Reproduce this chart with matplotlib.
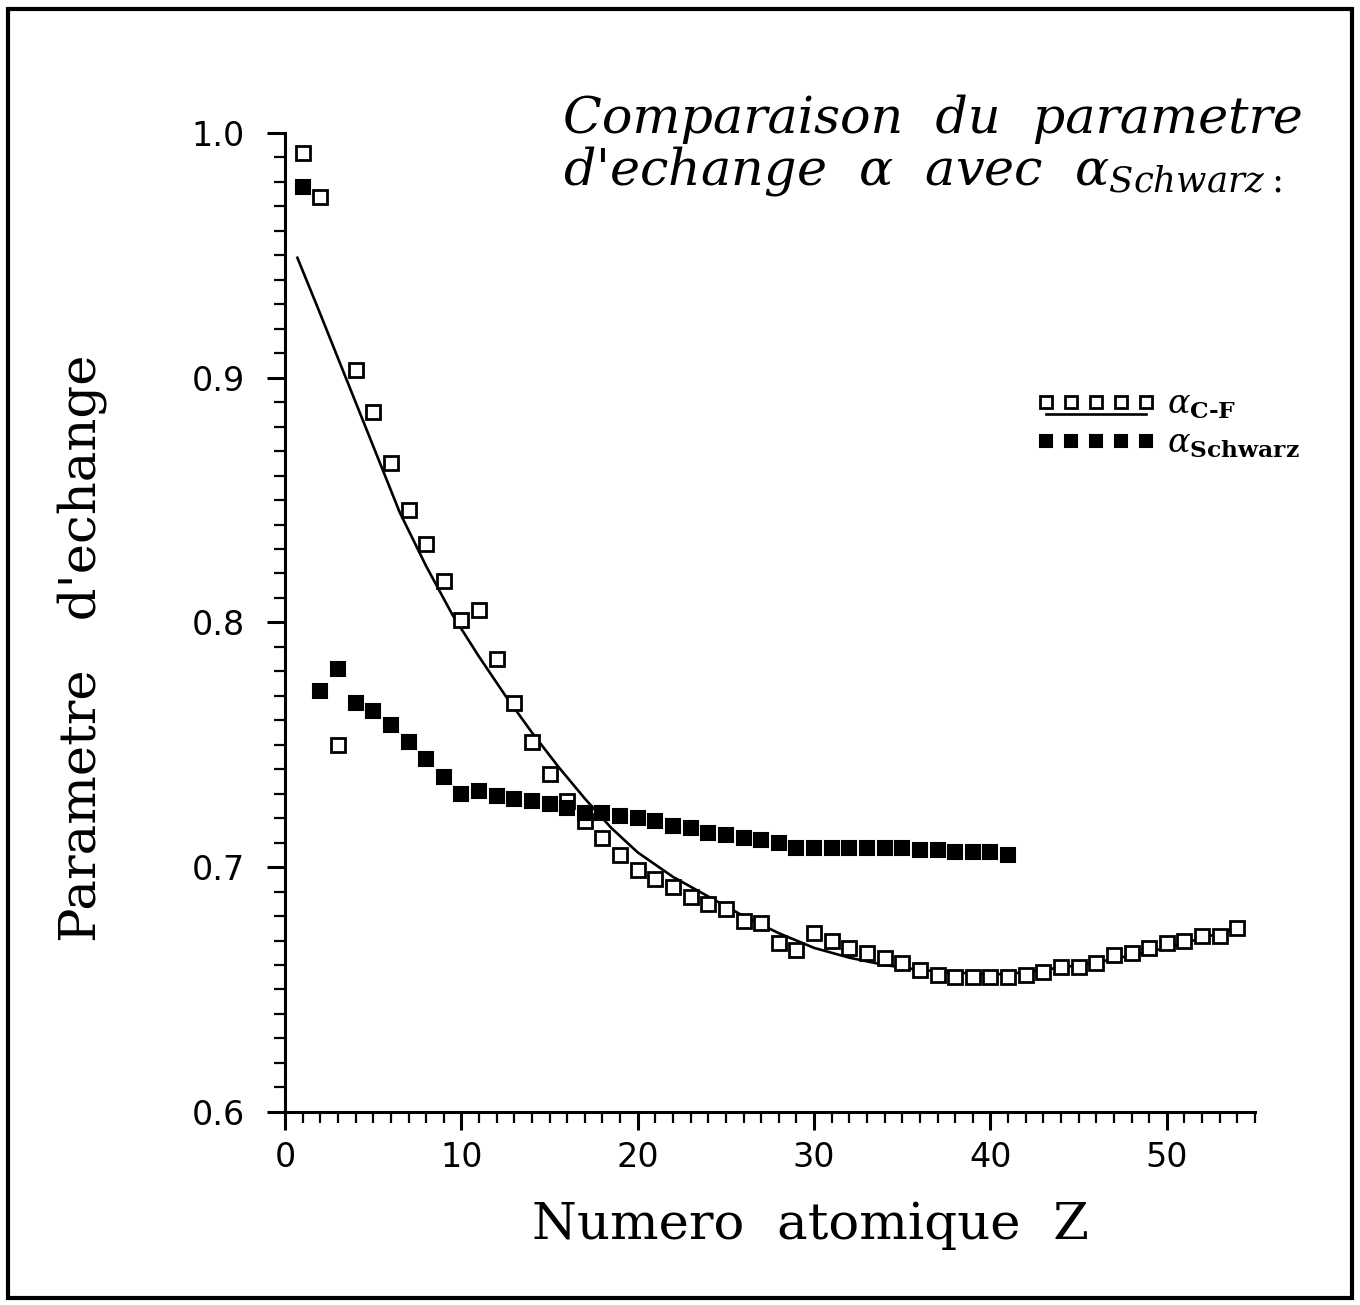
"""
exchange parameter alpha (C-F fit) compared with alpha Schwarz
output: out.png
"""

import numpy as np
import matplotlib

matplotlib.use("Agg")
import matplotlib.pyplot as plt
from matplotlib.patches import Rectangle
from matplotlib.legend_handler import HandlerLine2D, HandlerTuple
from matplotlib.ticker import MultipleLocator, FormatStrFormatter


# -- DATA --
z_cf = list(range(1, 55))
alpha_cf = [
    0.992, 0.974, 0.750, 0.903, 0.886, 0.865, 0.846, 0.832, 0.817, 0.801,
    0.805, 0.785, 0.767, 0.751, 0.738, 0.727, 0.719, 0.712, 0.705, 0.699,
    0.695, 0.692, 0.688, 0.685, 0.683, 0.678, 0.677, 0.669, 0.666, 0.673,
    0.670, 0.667, 0.665, 0.663, 0.661, 0.658, 0.656, 0.655, 0.655, 0.655,
    0.655, 0.656, 0.657, 0.659, 0.659, 0.661, 0.664, 0.665, 0.667, 0.669,
    0.670, 0.672, 0.672, 0.675,
]

z_schwarz = list(range(1, 42))
alpha_schwarz = [
    0.978, 0.772, 0.781, 0.767, 0.764, 0.758, 0.751, 0.744, 0.737, 0.730,
    0.731, 0.729, 0.728, 0.727, 0.726, 0.724, 0.722, 0.722, 0.721, 0.720,
    0.719, 0.717, 0.716, 0.714, 0.713, 0.712, 0.711, 0.710, 0.708, 0.708,
    0.708, 0.708, 0.708, 0.708, 0.708, 0.707, 0.707, 0.706, 0.706, 0.706,
    0.705,
]

# fitted curve
z_fit = [0.7, 2, 3.5, 5, 6.5, 8, 9.5, 11, 12.5, 14, 15.5, 17, 18.5, 20, 22,
         24, 26, 28, 30, 32, 34, 36, 38, 40, 42, 44, 46, 48, 50, 52, 54]
alpha_fit = [0.949, 0.926, 0.899, 0.872, 0.845, 0.823, 0.803, 0.786, 0.770,
             0.755, 0.741, 0.728, 0.716, 0.706, 0.696, 0.688, 0.680, 0.673,
             0.667, 0.663, 0.660, 0.658, 0.657, 0.656, 0.657, 0.659, 0.661,
             0.664, 0.667, 0.671, 0.675]

x_ticks = [0, 10, 20, 30, 40, 50]
y_ticks = [0.6, 0.7, 0.8, 0.9, 1.0]


# -- STYLE --
plt.rcParams["mathtext.fontset"] = "dejavuserif"
serif = ["DejaVu Serif"]


class UnderLine(HandlerLine2D):
    """legend line drawn below the marker row"""

    def create_artists(self, legend, orig_handle, xdescent, ydescent,
                       width, height, fontsize, trans):
        arts = super().create_artists(legend, orig_handle, xdescent, ydescent,
                                      width, height, fontsize, trans)
        for a in arts:
            a.set_ydata(np.asarray(a.get_ydata()) - 0.5 * height)
        return arts


# -- PLOT --
fig = plt.figure(figsize=(13.6, 13.05), dpi=100)
ax = fig.add_axes([0.2096, 0.148, 0.7132, 0.7501])

(fit_line,) = ax.plot(z_fit, alpha_fit, color="black", lw=1.9)
(cf_pts,) = ax.plot(z_cf, alpha_cf, ls="none", marker="s", ms=10,
                    mfc="white", mec="black", mew=2.0)
(sw_pts,) = ax.plot(z_schwarz, alpha_schwarz, ls="none", marker="s", ms=10,
                    mfc="black", mec="black", mew=1.5)

ax.set_xlim(0, 55)
ax.set_ylim(0.6, 1.0)

for side in ["top", "right"]:
    ax.spines[side].set_visible(False)
for side in ["left", "bottom"]:
    ax.spines[side].set_linewidth(2.2)

ax.set_xticks(x_ticks)
ax.set_yticks(y_ticks)
ax.xaxis.set_minor_locator(MultipleLocator(1))
ax.yaxis.set_minor_locator(MultipleLocator(0.01))
ax.yaxis.set_major_formatter(FormatStrFormatter("%.1f"))
ax.tick_params(which="major", direction="out", length=13, width=2.2)
ax.tick_params(which="minor", direction="out", length=8, width=1.6)
ax.tick_params(axis="y", which="major", pad=16)
ax.tick_params(axis="x", which="major", pad=8)
for lab in ax.get_xticklabels() + ax.get_yticklabels():
    lab.set_family("DejaVu Sans")
    lab.set_fontsize(24)

# legend: open squares with the fit underlined, then filled squares
leg = ax.legend(
    handles=[(cf_pts, fit_line), sw_pts],
    labels=["$\\alpha_{\\mathbf{C\u2010F}}$", r"$\alpha_{\mathbf{Schwarz}}$"],
    handler_map={tuple: HandlerTuple(ndivide=1, pad=0), fit_line: UnderLine()},
    loc="upper left",
    bbox_to_anchor=(0.760, 0.753),
    borderaxespad=0,
    frameon=False,
    numpoints=5,
    handlelength=3.6,
    handletextpad=0.35,
    labelspacing=0.15,
    fontsize=24,
    markerscale=0.8,
)

# title block
fig.text(0.414, 0.898, "Comparaison  du  parametre", family=serif,
         style="italic", fontsize=36.5, ha="left", va="baseline")
fig.text(0.414, 0.859, r"d'echange  $\alpha$  avec  $\alpha_{Schwarz}{}_{:}$",
         family=serif, style="italic", fontsize=36.5, ha="left", va="baseline")

# axis labels
fig.text(0.596, 0.0613, "Numero  atomique  Z", family=serif, fontsize=37,
         ha="center", va="center")
fig.text(0.060, 0.503, "Parametre   d'echange", family=serif, fontsize=37,
         ha="center", va="center", rotation=90)

# page frame of the scan
fig.patches.append(Rectangle((0.006, 0.005), 0.988, 0.988, transform=fig.transFigure,
                             fill=False, lw=3, ec="black"))

fig.savefig("out.png", dpi=100)
plt.close(fig)
